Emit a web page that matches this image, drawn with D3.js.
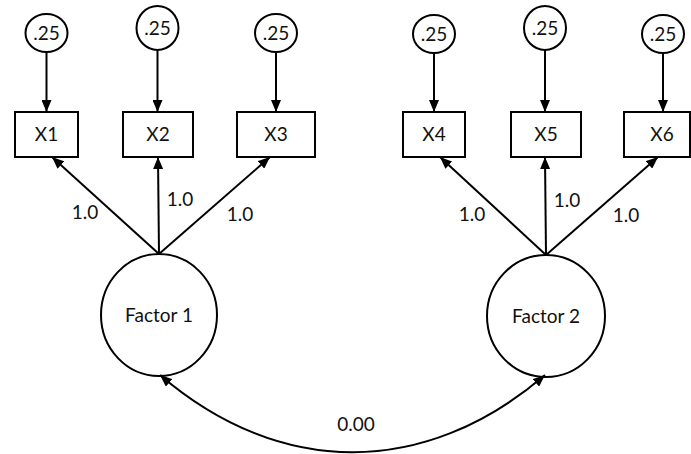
<!DOCTYPE html>
<html>
<head>
<meta charset="utf-8">
<script src="https://cdn.jsdelivr.net/npm/d3@7/dist/d3.min.js"></script>
<style>
  html, body { margin: 0; padding: 0; background: #fff; }
  svg { display: block; }
  text { font-family: Lato, "Open Sans", sans-serif; fill: #111; }
</style>
</head>
<body>
<svg id="chart" width="691" height="454"></svg>
<script>
// ---- data ----
const indicators = ["X1", "X2", "X3", "X4", "X5", "X6"];
const indicatorFactor = [0, 0, 0, 1, 1, 1];
const factors = ["Factor 1", "Factor 2"];
const loadings = [1.0, 1.0, 1.0, 1.0, 1.0, 1.0];
const errorVariances = [0.25, 0.25, 0.25, 0.25, 0.25, 0.25];
const factorCovariance = [0.00];

// ---- layout (positions, not data) ----
const boxLeft  = [15, 123, 237, 403, 511, 624];
const boxRight = [78, 193, 315, 465, 581, 690];
const boxTop = 112, boxBottom = 157;
const errCx = [46.5, 157.5, 276, 434, 545, 663];
const errCy = [33, 28, 33, 34, 28, 34];
const errRy = [19, 22, 19, 19, 22, 19];
const errRx = 21;
const tipX = [52, 158, 270, 440, 545, 658];
const labelX = [46.5, 158, 276, 434, 546, 662];
const factorCx = [159, 546], factorCy = [315, 316], factorRx = [58, 59], factorRy = 61;
const loadLabel = [[85, 219], [180, 206], [240, 221], [472, 221], [567, 207], [626, 222]];
const fontSize = 19;

const fmtLoad = d3.format(".1f");
const fmtErr = d => d3.format(".2f")(d).replace(/^0/, "");
const fmtCov = d3.format(".2f");

const svg = d3.select("#chart");
const defs = svg.append("defs");
defs.append("marker")
  .attr("id", "arrow")
  .attr("viewBox", "0 0 12 10")
  .attr("refX", 12).attr("refY", 5)
  .attr("markerWidth", 12).attr("markerHeight", 10)
  .attr("markerUnits", "userSpaceOnUse")
  .attr("orient", "auto-start-reverse")
  .append("path").attr("d", "M0,0 L12,5 L0,10 Z").attr("fill", "#000");

const sw = 2;

// error -> indicator arrows
svg.selectAll(".errline").data(indicators).join("line")
  .attr("x1", (d, i) => errCx[i]).attr("y1", (d, i) => errCy[i] + errRy[i])
  .attr("x2", (d, i) => errCx[i]).attr("y2", boxTop)
  .attr("stroke", "#000").attr("stroke-width", sw)
  .attr("marker-end", "url(#arrow)");

// error circles
const eg = svg.selectAll(".err").data(errorVariances).join("g");
eg.append("ellipse")
  .attr("cx", (d, i) => errCx[i]).attr("cy", (d, i) => errCy[i])
  .attr("rx", errRx).attr("ry", (d, i) => errRy[i])
  .attr("fill", "#fff").attr("stroke", "#000").attr("stroke-width", sw);
eg.append("text")
  .attr("x", (d, i) => errCx[i]).attr("y", (d, i) => errCy[i])
  .attr("dy", "0.36em").attr("text-anchor", "middle")
  .attr("font-size", fontSize).text(d => fmtErr(d));

// indicator boxes
const bg = svg.selectAll(".box").data(indicators).join("g");
bg.append("rect")
  .attr("x", (d, i) => boxLeft[i]).attr("y", boxTop)
  .attr("width", (d, i) => boxRight[i] - boxLeft[i]).attr("height", boxBottom - boxTop)
  .attr("fill", "#fff").attr("stroke", "#000").attr("stroke-width", sw);
bg.append("text")
  .attr("x", (d, i) => labelX[i])
  .attr("y", (boxTop + boxBottom) / 2)
  .attr("dy", "0.36em").attr("text-anchor", "middle")
  .attr("font-size", fontSize).text(d => d);

// loading arrows
svg.selectAll(".load").data(loadings).join("line")
  .attr("x1", (d, i) => factorCx[indicatorFactor[i]])
  .attr("y1", (d, i) => factorCy[indicatorFactor[i]] - factorRy)
  .attr("x2", (d, i) => tipX[i]).attr("y2", boxBottom)
  .attr("stroke", "#000").attr("stroke-width", sw)
  .attr("marker-end", "url(#arrow)");
svg.selectAll(".loadlab").data(loadings).join("text")
  .attr("x", (d, i) => loadLabel[i][0]).attr("y", (d, i) => loadLabel[i][1])
  .attr("text-anchor", "middle").attr("font-size", fontSize)
  .text(d => fmtLoad(d));

// factors
const fg = svg.selectAll(".fac").data(factors).join("g");
fg.append("ellipse")
  .attr("cx", (d, i) => factorCx[i]).attr("cy", (d, i) => factorCy[i])
  .attr("rx", (d, i) => factorRx[i]).attr("ry", factorRy)
  .attr("fill", "none").attr("stroke", "#000").attr("stroke-width", sw);
fg.append("text")
  .attr("x", (d, i) => factorCx[i]).attr("y", (d, i) => factorCy[i])
  .attr("dy", "0.36em").attr("text-anchor", "middle")
  .attr("font-size", fontSize).text(d => d);

// covariance arc
const x0 = factorCx[0] + 1, x1 = factorCx[1] - 1;
const yEnd = factorCy[0] + factorRy - 1;
const yc = 478;
const p = d3.path();
p.moveTo(x0, yEnd);
p.bezierCurveTo(x0 + 120, yc, x1 - 120, yc, x1, yEnd);
svg.append("path").attr("d", p.toString())
  .attr("fill", "none").attr("stroke", "#000").attr("stroke-width", sw)
  .attr("marker-start", "url(#arrow)").attr("marker-end", "url(#arrow)");
svg.append("text").attr("x", 356).attr("y", 431)
  .attr("text-anchor", "middle").attr("font-size", fontSize)
  .text(fmtCov(factorCovariance[0]));
</script>
</body>
</html>
